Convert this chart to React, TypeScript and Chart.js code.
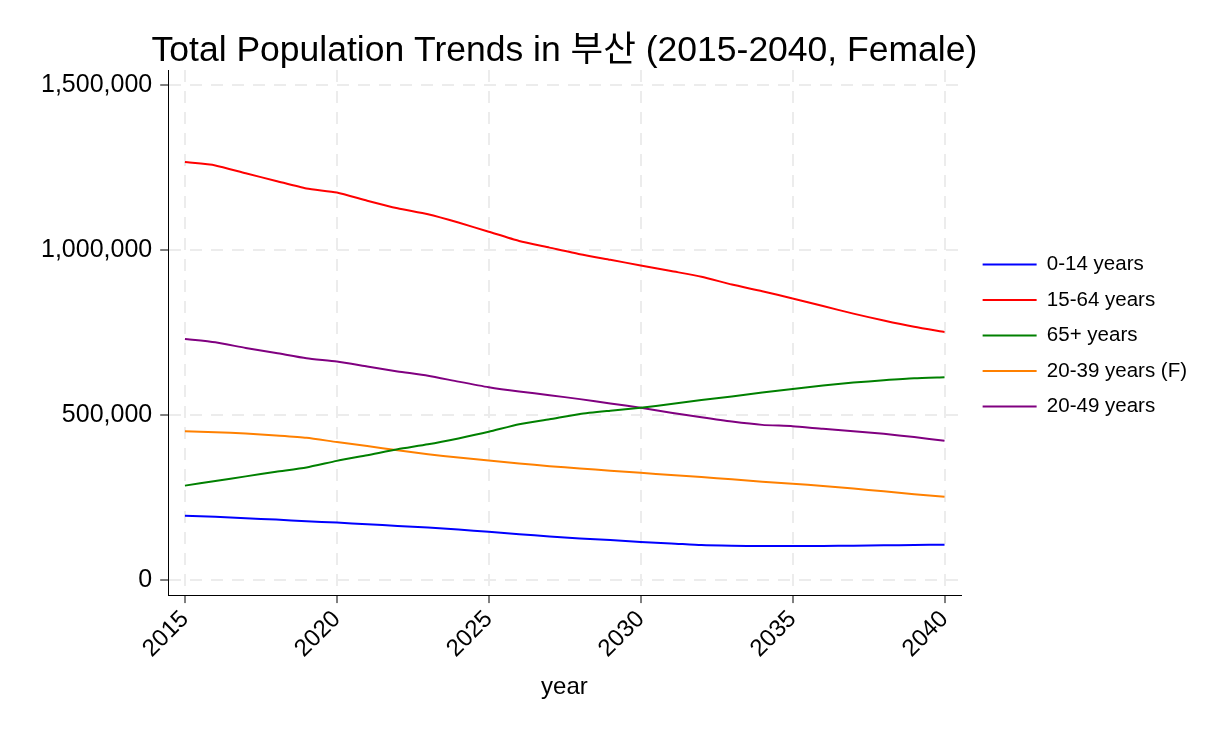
import React, { useEffect, useRef } from 'react';
import { Chart, registerables } from 'chart.js';
import type { Plugin } from 'chart.js';

Chart.register(...registerables);

const years = [
  2015, 2016, 2017, 2018, 2019, 2020, 2021, 2022, 2023, 2024, 2025, 2026, 2027,
  2028, 2029, 2030, 2031, 2032, 2033, 2034, 2035, 2036, 2037, 2038, 2039, 2040,
];
const age0to14 = [
  195000, 192000, 187000, 183000, 178000, 174000, 169000, 164000, 159000, 153000, 146000, 139000, 132000,
  126000, 121000, 115000, 111000, 106000, 104000, 103000, 103000, 103000, 104000, 105000, 106000, 107000,
];
const age15to64 = [
  1266000, 1256000, 1232000, 1209000, 1186000, 1174000, 1149000, 1126000, 1108000, 1083000, 1055000, 1027000, 1007000,
  987000, 970000, 953000, 936000, 919000, 895000, 875000, 853000, 830000, 807000, 786000, 767000, 751000,
];
const age65plus = [
  286000, 300000, 314000, 328000, 341000, 361000, 378000, 396000, 411000, 429000, 449000, 472000, 487000,
  503000, 513000, 522000, 533000, 545000, 556000, 568000, 579000, 589000, 598000, 605000, 611000, 614000,
];
const age20to39F = [
  451000, 448000, 444000, 438000, 431000, 418000, 406000, 393000, 381000, 371000, 362000, 353000, 345000,
  338000, 331000, 325000, 318000, 312000, 305000, 298000, 292000, 285000, 277000, 269000, 260000, 252000,
];
const age20to49 = [
  730000, 720000, 703000, 688000, 672000, 662000, 647000, 632000, 619000, 601000, 584000, 571000, 560000,
  548000, 535000, 522000, 507000, 493000, 480000, 470000, 466000, 458000, 451000, 443000, 433000, 422000,
];
const xTicks = [2015, 2020, 2025, 2030, 2035, 2040];
const yTicks = [0, 500000, 1000000, 1500000];

const TITLE = 'Total Population Trends in 부산 (2015-2040, Female)';
const FONT = "'Liberation Sans', Arial, 'Noto Sans CJK KR', sans-serif";

const series = [
  { label: '0-14 years', data: age0to14, color: '#0000ff' },
  { label: '15-64 years', data: age15to64, color: '#ff0000' },
  { label: '65+ years', data: age65plus, color: '#008000' },
  { label: '20-39 years (F)', data: age20to39F, color: '#ff8000' },
  { label: '20-49 years', data: age20to49, color: '#800080' },
];

// title centred over the plot area, allowed to be wider than it
const plotTitle: Plugin<'line'> = {
  id: 'plotTitle',
  afterUpdate(chart) {
    // nudge the legend a little away from the plot
    const lg = chart.legend;
    if (lg) {
      lg.left += 7;
      lg.right += 7;
      lg.top += 3;
      lg.bottom += 3;
    }
  },
  afterDraw(chart) {
    const { ctx, chartArea } = chart;
    ctx.save();
    ctx.font = `35.5px ${FONT}`;
    ctx.fillStyle = '#000';
    ctx.textAlign = 'center';
    ctx.textBaseline = 'alphabetic';
    ctx.fillText(TITLE, (chartArea.left + chartArea.right) / 2, 61);
    ctx.restore();
  },
};

const PopulationChart: React.FC = () => {
  const canvasRef = useRef<HTMLCanvasElement | null>(null);
  const chartRef = useRef<Chart | null>(null);

  useEffect(() => {
    if (!canvasRef.current) return;
    if (chartRef.current) chartRef.current.destroy();

    const gridStyle = {
      color: '#ececec',
      lineWidth: 2,
      tickColor: '#000',
      tickLength: 8,
      tickWidth: 1,
    };
    // in v4 border.dash is what dashes the grid lines
    const borderStyle = { display: true, color: '#000', width: 1, dash: [12, 9] };

    chartRef.current = new Chart(canvasRef.current, {
      type: 'line',
      data: {
        datasets: series.map((s) => ({
          label: s.label,
          data: years.map((yr, i) => ({ x: yr, y: s.data[i] })),
          borderColor: s.color,
          backgroundColor: s.color,
          borderWidth: 2,
          pointRadius: 0,
          pointStyle: 'line',
          tension: 0.2,
          fill: false,
        })),
      },
      options: {
        animation: false,
        responsive: true,
        maintainAspectRatio: false,
        layout: { padding: { top: 70, left: 33, right: 34, bottom: 28 } },
        scales: {
          x: {
            type: 'linear',
            min: 2014.45,
            max: 2040.53,
            afterBuildTicks: (axis) => {
              axis.ticks = xTicks.map((v) => ({ value: v }));
            },
            grid: gridStyle,
            border: borderStyle,
            ticks: {
              color: '#000',
              font: { family: FONT, size: 24 },
              maxRotation: 45,
              minRotation: 45,
              padding: 2,
              callback: (v) => String(v),
            },
            title: {
              display: true,
              text: 'year',
              color: '#000',
              font: { family: FONT, size: 24 },
              padding: { top: 8 },
            },
          },
          y: {
            type: 'linear',
            min: -45600,
            max: 1545000,
            afterBuildTicks: (axis) => {
              axis.ticks = yTicks.map((v) => ({ value: v }));
            },
            grid: gridStyle,
            border: borderStyle,
            ticks: {
              color: '#000',
              font: { family: FONT, size: 25 },
              padding: 8,
              callback: (v) => Number(v).toLocaleString('en-US'),
            },
          },
        },
        plugins: {
          title: { display: false },
          legend: {
            position: 'right',
            fullSize: false,
            labels: {
              usePointStyle: true,
              pointStyle: 'line',
              pointStyleWidth: 54,
              color: '#000',
              font: { family: FONT, size: 20.5 },
              padding: 15,
            },
          },
          tooltip: { enabled: false },
        },
      },
      plugins: [plotTitle],
    });

    return () => {
      if (chartRef.current) {
        chartRef.current.destroy();
        chartRef.current = null;
      }
    };
  }, []);

  return <canvas ref={canvasRef} />;
};

export default function App() {
  useEffect(() => {
    document.body.style.margin = '0';
  }, []);
  return (
    <div style={{ width: 1224, height: 734, background: '#fff' }}>
      <PopulationChart />
    </div>
  );
}
